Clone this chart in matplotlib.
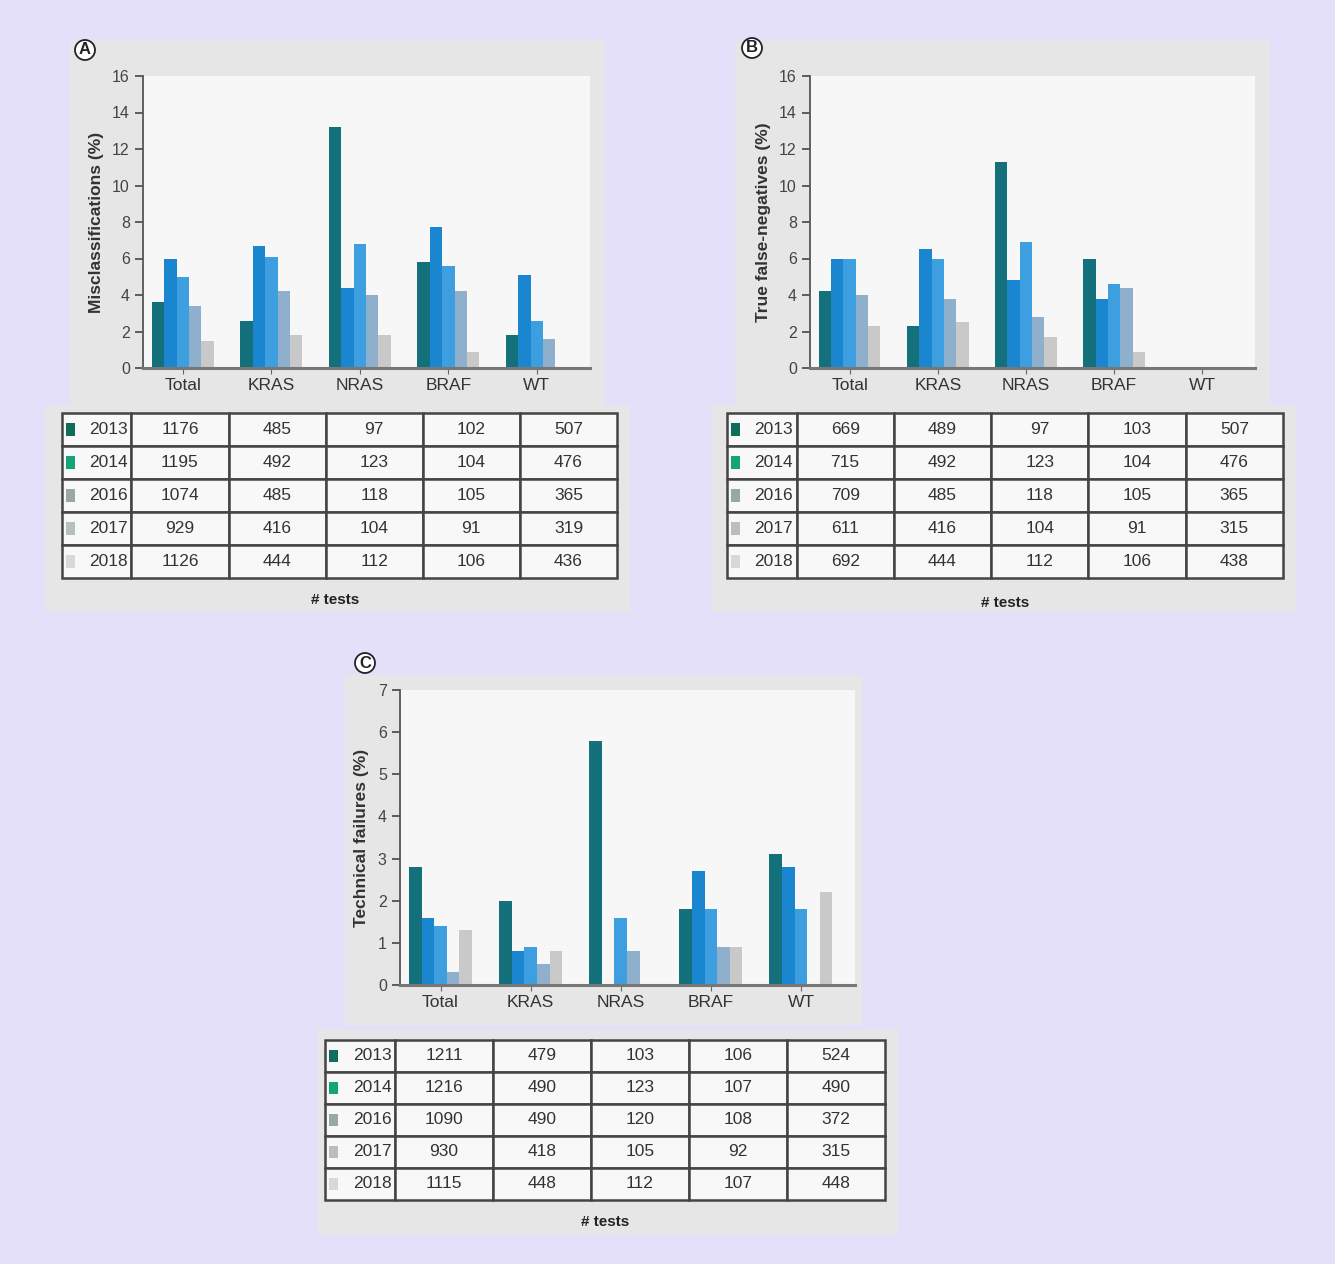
import numpy as np
import matplotlib.pyplot as plt
from matplotlib.patches import Rectangle

plt.rcParams['font.family'] = ['Liberation Sans', 'DejaVu Sans']

# categories and years
genes = ['Total', 'KRAS', 'NRAS', 'BRAF', 'WT']
years = ['2013', '2014', '2016', '2017', '2018']
year_colors = ['#14707a', '#1b86d0', '#3d9fe0', '#8fb0cc', '#c9c9c9']
marker_colors = ['#0f6e5a', '#17a37a', '#9aa8a4', '#b8c0bd', '#d8d8d8']

# panel A - misclassifications (%), one list per year
misc_2013 = [3.6, 2.6, 13.2, 5.8, 1.8]
misc_2014 = [6.0, 6.7, 4.4, 7.7, 5.1]
misc_2016 = [5.0, 6.1, 6.8, 5.6, 2.6]
misc_2017 = [3.4, 4.2, 4.0, 4.2, 1.6]
misc_2018 = [1.5, 1.8, 1.8, 0.9, 0.0]

# panel B - true false-negatives (%)
fneg_2013 = [4.2, 2.3, 11.3, 6.0, 0.0]
fneg_2014 = [6.0, 6.5, 4.8, 3.8, 0.0]
fneg_2016 = [6.0, 6.0, 6.9, 4.6, 0.0]
fneg_2017 = [4.0, 3.8, 2.8, 4.4, 0.0]
fneg_2018 = [2.3, 2.5, 1.7, 0.9, 0.0]

# panel C - technical failures (%)
tech_2013 = [2.8, 2.0, 5.8, 1.8, 3.1]
tech_2014 = [1.6, 0.8, 0.0, 2.7, 2.8]
tech_2016 = [1.4, 0.9, 1.6, 1.8, 1.8]
tech_2017 = [0.3, 0.5, 0.8, 0.9, 0.0]
tech_2018 = [1.3, 0.8, 0.0, 0.9, 2.2]

# number of tests tables
tests_a = [[1176, 485, 97, 102, 507],
           [1195, 492, 123, 104, 476],
           [1074, 485, 118, 105, 365],
           [929, 416, 104, 91, 319],
           [1126, 444, 112, 106, 436]]
tests_b = [[669, 489, 97, 103, 507],
           [715, 492, 123, 104, 476],
           [709, 485, 118, 105, 365],
           [611, 416, 104, 91, 315],
           [692, 444, 112, 106, 438]]
tests_c = [[1211, 479, 103, 106, 524],
           [1216, 490, 123, 107, 490],
           [1090, 490, 120, 108, 372],
           [930, 418, 105, 92, 315],
           [1115, 448, 112, 107, 448]]

W, H = 1335, 1264
fig = plt.figure(figsize=(W / 100, H / 100), dpi=100)
fig.patch.set_facecolor('#e4e0fa')


def px_rect(x0, y0, x1, y1):
    # pixel box -> figure fraction [left, bottom, width, height]
    return [x0 / W, 1 - y1 / H, (x1 - x0) / W, (y1 - y0) / H]


def grey_box(x0, y0, x1, y1, color='#e6e6e6'):
    l, b, w, h = px_rect(x0, y0, x1, y1)
    fig.patches.append(Rectangle((l, b), w, h, transform=fig.transFigure,
                                 facecolor=color, edgecolor='none', zorder=-5))


def bar_panel(box, series, ymax, ystep, ylabel):
    ax = fig.add_axes(px_rect(*box))
    ax.set_facecolor('#f7f7f7')
    x = np.arange(len(genes))
    w = 0.14
    for i, vals in enumerate(series):
        ax.bar(x + (i - 2) * w, vals, width=w, color=year_colors[i], edgecolor='none', zorder=2)
    ax.set_xlim(-0.45, 4.6)
    ax.set_ylim(0, ymax)
    ax.set_yticks(np.arange(0, ymax + 0.1, ystep))
    ax.set_xticks(x)
    ax.set_xticklabels(genes, fontsize=12.5, color='#333333')
    ax.tick_params(axis='y', labelsize=11.5, colors='#444444', length=6, width=1.2,
                   direction='out')
    ax.tick_params(axis='x', length=4, colors='#666666', labelcolor='#333333')
    ax.spines['top'].set_visible(False)
    ax.spines['right'].set_visible(False)
    ax.spines['left'].set_color('#555555')
    ax.spines['left'].set_linewidth(1.3)
    ax.spines['bottom'].set_color('#777777')
    ax.spines['bottom'].set_linewidth(2.2)
    ax.set_ylabel(ylabel, fontsize=12.5, fontweight='bold', color='#333333', labelpad=6)
    return ax


def table_panel(box, rows):
    ax = fig.add_axes(px_rect(*box))
    ax.axis('off')
    cells = [[y] + [str(v) for v in r] for y, r in zip(years, rows)]
    first = 0.125
    rest = (1 - first) / 5
    tb = ax.table(cellText=cells, colWidths=[first] + [rest] * 5,
                  bbox=[0, 0, 1, 1], cellLoc='center')
    tb.auto_set_font_size(False)
    tb.set_fontsize(12.5)
    for (r, c), cell in tb.get_celld().items():
        cell.set_edgecolor('#444444')
        cell.set_linewidth(1.8)
        cell.set_facecolor('#f8f8f8')
        cell.get_text().set_color('#333333')
        if c == 0:
            cell.get_text().set_horizontalalignment('right')
            cell.PAD = 0.05
    for i, col in enumerate(marker_colors):
        y0 = 1 - (i + 1) / 5 + 0.06
        ax.add_patch(Rectangle((0.008, y0), 0.016, 0.08, facecolor=col,
                               edgecolor='none', transform=ax.transAxes, zorder=5))
    return ax


def panel_letter(x, y, s):
    fig.text(x / W, 1 - y / H, s, ha='center', va='center', fontsize=12, fontweight='bold',
             color='#222222',
             bbox=dict(boxstyle='circle,pad=0.15', facecolor='white', edgecolor='#222222', lw=1.3))


# grey panel backgrounds
grey_box(70, 40, 605, 405)
grey_box(735, 40, 1270, 405)
grey_box(345, 675, 862, 1025)
grey_box(45, 405, 630, 612)
grey_box(712, 405, 1296, 612)
grey_box(318, 1030, 898, 1235)

bar_panel((143, 76, 590, 368), [misc_2013, misc_2014, misc_2016, misc_2017, misc_2018],
          16, 2, 'Misclassifications (%)')
bar_panel((810, 76, 1255, 368), [fneg_2013, fneg_2014, fneg_2016, fneg_2017, fneg_2018],
          16, 2, 'True false-negatives (%)')
bar_panel((400, 690, 855, 985), [tech_2013, tech_2014, tech_2016, tech_2017, tech_2018],
          7, 1, 'Technical failures (%)')

table_panel((62, 413, 617, 578), tests_a)
table_panel((727, 413, 1283, 578), tests_b)
table_panel((325, 1040, 885, 1200), tests_c)

for x, y in [(335, 600), (1005, 603), (605, 1222)]:
    fig.text(x / W, 1 - y / H, '# tests', ha='center', va='center', fontsize=11,
             fontweight='bold', color='#222222')

panel_letter(85, 50, 'A')
panel_letter(752, 48, 'B')
panel_letter(365, 663, 'C')

plt.savefig('out.png', dpi=100, facecolor=fig.get_facecolor())
